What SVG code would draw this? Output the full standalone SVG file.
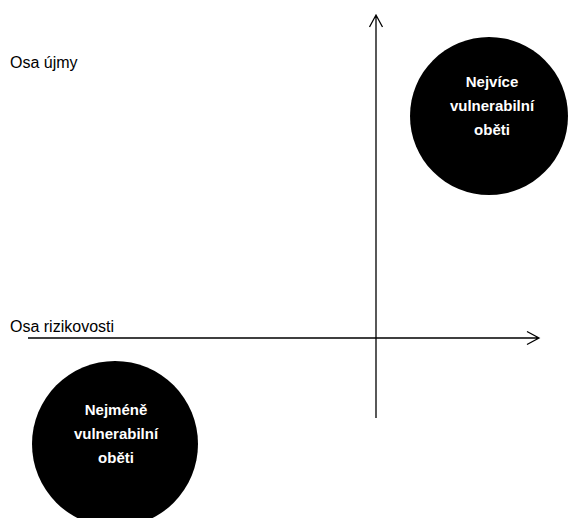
<svg xmlns="http://www.w3.org/2000/svg" width="571" height="518" viewBox="0 0 571 518">
<style>
.axis{stroke:#000;stroke-width:1.3;fill:none}
.lbl{font-family:"Liberation Sans",Arial,sans-serif;font-size:16px;fill:#000}
.ct{font-family:"Liberation Sans",Arial,sans-serif;font-size:15px;font-weight:bold;fill:#fff;text-anchor:middle}
</style>
<rect width="571" height="518" fill="#fff"/>
<g id="connectors">
<path class="axis" d="M28 338 H539 M527 331.5 L539 338 L527 344.5"/>
<path class="axis" d="M376 418 V15 M369.5 27 L376 15 L382.5 27"/>
</g>
<g id="label-harm"><text class="lbl" x="10" y="68">Osa újmy</text></g>
<g id="label-risk"><text class="lbl" x="10" y="332">Osa rizikovosti</text></g>
<g id="most-vulnerable">
<circle cx="489" cy="116" r="79" fill="#000"/>
<text class="ct" x="492" y="87">Nejvíce</text>
<text class="ct" x="492" y="111">vulnerabilní</text>
<text class="ct" x="492" y="135">oběti</text>
</g>
<g id="least-vulnerable">
<circle cx="115" cy="444" r="83" fill="#000"/>
<text class="ct" x="116" y="415">Nejméně</text>
<text class="ct" x="116" y="439">vulnerabilní</text>
<text class="ct" x="116" y="463">oběti</text>
</g>
</svg>
